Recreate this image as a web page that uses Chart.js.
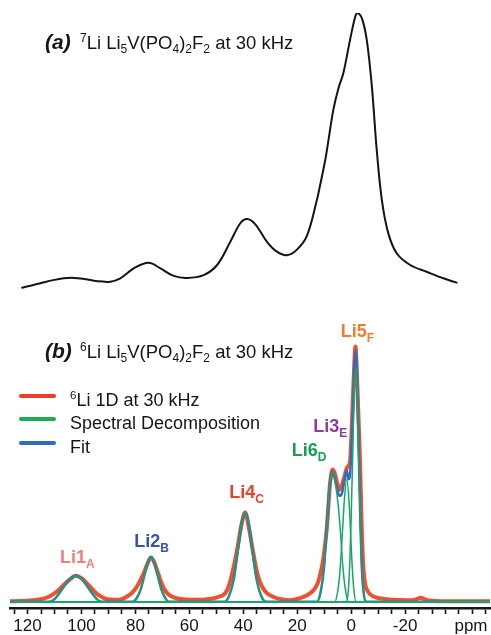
<!DOCTYPE html>
<html>
<head>
<meta charset="utf-8">
<script src="https://cdn.jsdelivr.net/npm/chart.js@4.4.1/dist/chart.umd.min.js"></script>
<style>
  html, body { margin: 0; padding: 0; background: #fff; overflow: hidden; }
  #wrap { position: relative; width: 491px; height: 635px; overflow: hidden; }
  canvas { position: absolute; left: 0; }
  #li7-chart { top: 0; }
  #li6-chart { top: 300px; }
</style>
</head>
<body>
<div id="wrap">
  <canvas id="li7-chart" width="491" height="300"></canvas>
  <canvas id="li6-chart" width="491" height="339"></canvas>
</div>
<script>
// ppm axis range and tick marks
const ppmMax = 126.5;
const ppmMin = -51.5;
const tickLabels = [120, 100, 80, 60, 40, 20, 0, -20];

// (a) 7Li spectrum
const li7Ppm = [122.0, 118.5, 115.2, 110.5, 106.6, 102.8, 99.0, 95.4, 92.0, 89.3, 85.6, 80.6, 75.1, 70.7, 65.8, 60.9, 54.7, 49.7, 44.8, 41.1, 38.6, 35.6, 31.2, 27.5, 23.8, 20.1, 16.4, 12.7, 11.5, 9.6, 8.4, 6.6, 4.7, 2.9, 0.4, -1.5, -2.3, -4.0, -5.8, -7.7, -9.5, -11.4, -13.8, -16.9, -21.9, -28.0, -34.2, -39.1];
const li7Int = [1.9, 2.7, 3.5, 4.6, 5.25, 5.4, 5.0, 4.4, 4.1, 4.0, 5.25, 8.8, 10.8, 8.8, 6.1, 5.4, 6.4, 10.0, 18.3, 24.9, 26.4, 24.6, 18.3, 14.75, 13.5, 15.5, 20.4, 33.2, 38.5, 47.5, 54.6, 65.4, 73.1, 78.5, 90.4, 98.7, 100, 98.1, 90.4, 73.7, 51.0, 33.2, 21.3, 14.2, 10.0, 7.6, 5.25, 3.7];

// (b) 6Li spectrum, measured
const li6Ppm = [126.5, 122, 118, 115.2, 112.5, 110.3, 108.3, 106.5, 104.3, 102.2, 100, 97.9, 96, 94.2, 92.3, 90.5, 87.5, 85, 83.1, 81.2, 79.4, 77.9, 76.9, 75.5, 74.2, 73, 72, 70.7, 69.5, 67.8, 65.8, 62.5, 59.6, 56, 53.4, 51, 48.5, 47, 45.8, 44.6, 43.3, 42, 40.7, 39.3, 37.9, 36.6, 35.2, 33.9, 32.5, 31.2, 28.5, 26.3, 22.6, 18.9, 16.5, 14.0, 12.5, 11.5, 10.3, 9.0, 7.8, 6.8, 5.9, 5.0, 4.3, 3.5, 2.6, 1.6, 0.8, 0.3, -0.3, -0.9, -1.6, -2.3, -2.8, -3.3, -3.9, -4.5, -5.2, -6, -7, -8.3, -10.5, -13.2, -18, -22, -24.3, -25.8, -27.3, -30, -35, -51.5];
const li6Int = [0.2, 0.3, 0.6, 1.0, 1.8, 3.1, 4.8, 6.7, 8.8, 10.2, 9.3, 7.1, 5.0, 3.1, 1.8, 1.0, 0.8, 1.1, 2.1, 3.6, 6.0, 9.0, 11.2, 15.0, 17.4, 15.5, 12.5, 8.5, 5.4, 3.0, 1.8, 1.0, 0.8, 0.8, 1.0, 1.4, 2.2, 3.0, 5.0, 9.0, 15, 22, 30, 35, 29, 21, 13, 8, 5, 3.4, 1.8, 1.1, 0.6, 1.5, 2.5, 4.5, 7.0, 10.5, 17, 29, 46.5, 51.8, 49.8, 45.5, 43.9, 45.5, 48.5, 52.5, 53.5, 56, 70, 86, 100, 85, 70, 55, 30, 14, 7, 4.5, 3, 2.1, 1.4, 1.0, 0.7, 0.6, 1.1, 1.6, 1.0, 0.4, 0.2, 0.2];

// (b) fitted envelope
const fitPpm = [126.5, 112, 110, 108.5, 106.5, 104.3, 102.2, 100, 97.8, 95.8, 94.2, 92.5, 81, 79.5, 78, 76.5, 75.2, 74.2, 73.2, 71.9, 70.4, 68.9, 67.5, 47, 45.2, 43.5, 42, 40.6, 39.3, 38, 36.6, 35.1, 33.4, 31.5, 12.7, 11.3, 10.0, 9.0, 8.0, 6.9, 5.8, 5.0, 4.3, 3.4, 2.5, 1.6, 1.0, 0.5, 0, -0.6, -1.1, -1.7, -2.3, -2.8, -3.4, -3.9, -4.5, -5.4, -51.5];
const fitInt = [0, 0, 1.0, 3.0, 6.0, 9.0, 10.2, 9.0, 6.0, 3.0, 1.0, 0, 0, 1.5, 5, 11, 16, 17.5, 16, 11, 5, 1.5, 0, 0, 2.5, 9, 20, 31, 35, 31, 20, 9, 2.5, 0, 0, 4, 14, 30, 45, 51.2, 47, 43.5, 41.5, 42.5, 47.5, 51.5, 48, 49, 57, 72, 90, 98.5, 84, 60, 32.5, 15, 5, 0, 0];

// (b) spectral decomposition, one site per array pair
const siteLi1Ppm = [126.5, 112, 110, 108.5, 106.5, 104.3, 102.2, 100, 97.8, 95.8, 94.2, 92.5, -51.5];
const siteLi1Int = [0, 0, 1.0, 3.0, 6.0, 9.0, 10.2, 9.0, 6.0, 3.0, 1.0, 0, 0];
const siteLi2Ppm = [126.5, 81, 79.5, 78, 76.5, 75.2, 74.2, 73.2, 71.9, 70.4, 68.9, 67.5, -51.5];
const siteLi2Int = [0, 0, 1.5, 5, 11, 16, 17.5, 16, 11, 5, 1.5, 0, 0];
const siteLi4Ppm = [126.5, 47, 45.2, 43.5, 42, 40.6, 39.3, 38, 36.6, 35.1, 33.4, 31.5, -51.5];
const siteLi4Int = [0, 0, 2.5, 9, 20, 31, 35, 31, 20, 9, 2.5, 0, 0];
const siteLi6Ppm = [126.5, 12.7, 11.3, 10.0, 9.0, 8.0, 6.9, 5.8, 4.8, 4.0, 3.0, 2.0, 1.0, -51.5];
const siteLi6Int = [0, 0, 4, 14, 30, 45, 51, 46, 38, 28, 13, 4, 0, 0];
const siteLi3Ppm = [126.5, 6.0, 5.0, 4.3, 3.4, 2.5, 1.6, 0.7, -0.1, -0.9, -1.9, -51.5];
const siteLi3Int = [0, 0, 4, 10, 24, 40, 48, 38, 20, 6, 0, 0];
const siteLi5Ppm = [126.5, 1.6, 1.0, 0.5, 0, -0.6, -1.1, -1.7, -2.3, -2.8, -3.4, -3.9, -4.5, -5.4, -51.5];
const siteLi5Int = [0, 0, 5, 15, 32, 58, 82, 92, 82, 58, 32, 15, 5, 0, 0];

const FONT = '"Liberation Sans", Arial, Helvetica, sans-serif';
const RED = '#F0502E';
const GREEN = '#17A765';
const BLUE = '#2F6CC0';

Chart.defaults.font.family = FONT;
Chart.defaults.animation = false;

function pts(xs, ys) {
  return xs.map((x, i) => ({ x: x, y: ys[i] }));
}

// writes a run of text pieces, with sub- and superscripts
function drawRich(ctx, x, y, parts, f) {
  parts.forEach(function(p) {
    const t = p[0], kind = p[1] || '';
    const small = kind === 'sub' || kind === 'sup';
    ctx.font = (f.weight || '') + ' ' + (small ? f.small : f.size) + 'px ' + FONT;
    let dy = 0;
    if (kind === 'sub') dy = f.subDy;
    if (kind === 'sup') dy = -f.supDy;
    ctx.fillText(t, x, y + dy);
    x += ctx.measureText(t).width;
  });
  return x;
}

function drawTitle(ctx, letter, isotope, y) {
  ctx.save();
  ctx.fillStyle = '#151515';
  ctx.textBaseline = 'alphabetic';
  ctx.font = 'italic bold 21px ' + FONT;
  ctx.fillText('(' + letter + ')', 45, y);
  drawRich(ctx, 80, y, [
    [isotope, 'sup'], ['Li Li'], ['5', 'sub'], ['V(PO'], ['4', 'sub'], [')'],
    ['2', 'sub'], ['F'], ['2', 'sub'], [' at 30 kHz']
  ], { size: 18.5, small: 12, subDy: 4, supDy: 7 });
  ctx.restore();
}

const lineDefaults = {
  pointRadius: 0,
  pointHoverRadius: 0,
  fill: false,
  cubicInterpolationMode: 'monotone',
  borderJoinStyle: 'round',
  borderCapStyle: 'round'
};

// ---- (a) 7Li ----
const topTitle = {
  id: 'topTitle',
  afterDraw: function(chart) {
    drawTitle(chart.ctx, 'a', '7', 48.5);
  }
};

new Chart(document.getElementById('li7-chart'), {
  type: 'line',
  data: {
    datasets: [Object.assign({}, lineDefaults, {
      label: '7Li',
      data: pts(li7Ppm, li7Int),
      borderColor: '#141414',
      borderWidth: 2,
      cubicInterpolationMode: 'default',
      tension: 0.35
    })]
  },
  options: {
    responsive: false,
    devicePixelRatio: 1,
    layout: { padding: { left: 10, right: 1, top: 13, bottom: 7 } },
    plugins: { legend: { display: false }, tooltip: { enabled: false } },
    scales: {
      x: { type: 'linear', reverse: true, min: ppmMin, max: ppmMax, display: false },
      y: { min: 0, max: 100, display: false }
    }
  },
  plugins: [topTitle]
});

// ---- (b) 6Li ----
const peakLabels = [
  { name: 'Li1', sub: 'A', color: '#F47F7F', x: 60, y: 263.3 },
  { name: 'Li2', sub: 'B', color: '#3853AE', x: 134.3, y: 246.7 },
  { name: 'Li4', sub: 'C', color: '#EE3F2D', x: 229.3, y: 198.3 },
  { name: 'Li6', sub: 'D', color: '#15A04F', x: 291.7, y: 156 },
  { name: 'Li3', sub: 'E', color: '#8B3FA0', x: 313.3, y: 131.7 },
  { name: 'Li5', sub: 'F', color: '#F57A2F', x: 340.7, y: 37 }
];

const legendItems = [
  { parts: [['6', 'sup'], ['Li 1D at 30 kHz']], color: '#EE3D2B', y: 96 },
  { parts: [['Spectral Decomposition']], color: '#1CAE4E', y: 119 },
  { parts: [['Fit']], color: BLUE, y: 143 }
];

const bottomDecor = {
  id: 'bottomDecor',
  afterDraw: function(chart) {
    const ctx = chart.ctx;
    drawTitle(ctx, 'b', '6', 57.5);

    ctx.save();
    // legend
    legendItems.forEach(function(item) {
      ctx.strokeStyle = item.color;
      ctx.lineWidth = 4;
      ctx.lineCap = 'round';
      ctx.beginPath();
      ctx.moveTo(21, item.y);
      ctx.lineTo(54, item.y);
      ctx.stroke();
      ctx.fillStyle = '#151515';
      drawRich(ctx, 70, item.y + 10, item.parts, { size: 18, small: 11.5, subDy: 4, supDy: 7 });
    });

    // site labels
    peakLabels.forEach(function(p) {
      ctx.fillStyle = p.color;
      drawRich(ctx, p.x, p.y, [[p.name], [p.sub, 'sub']], { weight: 'bold', size: 18, small: 12, subDy: 5 });
    });

    // axis unit
    const xs = chart.scales.x;
    ctx.fillStyle = '#151515';
    ctx.font = '17px ' + FONT;
    ctx.textAlign = 'center';
    ctx.textBaseline = 'middle';
    ctx.fillText('ppm', 471, xs.top + 6 + 4 + 8.5);
    ctx.restore();
  }
};

const siteSets = [
  [siteLi1Ppm, siteLi1Int], [siteLi2Ppm, siteLi2Int], [siteLi4Ppm, siteLi4Int],
  [siteLi6Ppm, siteLi6Int], [siteLi3Ppm, siteLi3Int], [siteLi5Ppm, siteLi5Int]
];

const li6Datasets = siteSets.map(function(s, i) {
  return Object.assign({
    label: 'Spectral Decomposition ' + (i + 1),
    data: pts(s[0], s[1]),
    borderColor: GREEN,
    borderWidth: 1.5,
    order: 0
  }, lineDefaults);
});
li6Datasets.push(Object.assign({
  label: 'Fit',
  data: pts(fitPpm, fitInt),
  borderColor: BLUE,
  borderWidth: 2.5,
  order: 1
}, lineDefaults));
li6Datasets.push(Object.assign({
  label: '6Li 1D at 30 kHz',
  data: pts(li6Ppm, li6Int),
  borderColor: RED,
  borderWidth: 4,
  order: 2
}, lineDefaults));

new Chart(document.getElementById('li6-chart'), {
  type: 'line',
  data: { datasets: li6Datasets },
  options: {
    responsive: false,
    devicePixelRatio: 1,
    layout: { padding: { left: 10, right: 1, top: 21, bottom: 0 } },
    plugins: { legend: { display: false }, tooltip: { enabled: false } },
    scales: {
      x: {
        type: 'linear',
        reverse: true,
        min: ppmMin,
        max: ppmMax,
        afterBuildTicks: function(axis) {
          const ticks = [];
          for (let v = 125; v >= -50; v -= 5) ticks.push({ value: v });
          axis.ticks = ticks;
        },
        ticks: {
          autoSkip: false,
          maxRotation: 0,
          padding: 4,
          color: '#151515',
          font: { family: FONT, size: 17, lineHeight: 1 },
          callback: function(v) { return tickLabels.includes(v) ? String(v) : ''; }
        },
        grid: { drawOnChartArea: false, drawTicks: true, tickLength: 6, tickWidth: 1.6, tickColor: '#151515' },
        border: { display: true, color: '#151515', width: 2.5 }
      },
      y: { min: -2.4, max: 110, display: false }
    }
  },
  plugins: [bottomDecor]
});
</script>
</body>
</html>
